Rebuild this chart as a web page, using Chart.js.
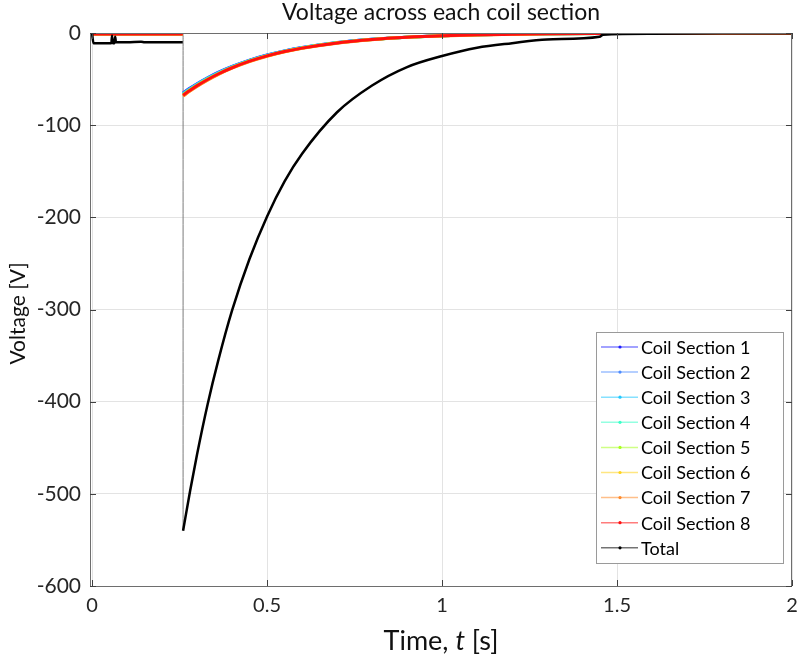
<!DOCTYPE html>
<html lang="en">
<head>
    <meta charset="UTF-8">
    <title>Voltage across each coil section</title>
    <script src="https://cdn.jsdelivr.net/npm/chart.js"></script>
    <style>
        body {
            margin: 0;
            background: #fff;
        }
    </style>
</head>
<body>
    <canvas id="coilChart" width="801" height="660"></canvas>

    <script>
        // time axis for the coil sections (s)
        const tCoil = [0, 0.259, 0.26, 0.28, 0.30, 0.33, 0.36, 0.40, 0.45, 0.50, 0.55, 0.60, 0.70, 0.80, 0.90, 1.00, 1.10, 1.20, 1.30, 1.45, 1.60, 1.80, 2.00];

        // voltage of each coil section (V)
        const coil1 = [-0.9, -0.9, -65, -59.8, -55.0, -48.6, -42.8, -36.3, -29.4, -23.9, -19.4, -15.8, -10.4, -6.8, -4.5, -3.0, -2.0, -1.3, -0.8, -0.5, -0.2, -0.1, 0];
        const coil2 = [-0.9, -0.9, -65.5, -60.3, -55.4, -48.9, -43.2, -36.5, -29.7, -24.1, -19.5, -15.9, -10.5, -6.9, -4.5, -3.0, -2.0, -1.3, -0.9, -0.5, -0.2, -0.1, 0];
        const coil3 = [-1, -1, -66, -60.7, -55.8, -49.3, -43.5, -36.8, -29.9, -24.3, -19.7, -16.0, -10.6, -6.9, -4.6, -3.0, -2.0, -1.3, -0.9, -0.5, -0.2, -0.1, 0];
        const coil4 = [-1, -1, -66.5, -61.2, -56.3, -49.7, -43.8, -37.1, -30.1, -24.5, -19.8, -16.2, -10.6, -7.0, -4.6, -3.1, -2.0, -1.3, -0.9, -0.5, -0.2, -0.1, 0];
        const coil5 = [-1, -1, -67, -61.6, -56.7, -50.0, -44.2, -37.4, -30.4, -24.7, -20.0, -16.3, -10.7, -7.0, -4.6, -3.1, -2.0, -1.3, -0.9, -0.5, -0.2, -0.1, 0];
        const coil6 = [-1, -1, -68, -62.6, -57.5, -50.8, -44.8, -37.9, -30.8, -25.0, -20.3, -16.5, -10.9, -7.1, -4.7, -3.1, -2.0, -1.4, -0.9, -0.5, -0.3, -0.1, 0];
        const coil7 = [-1.1, -1.1, -68.5, -63.0, -58.0, -51.2, -45.1, -38.2, -31.0, -25.2, -20.4, -16.6, -11.0, -7.2, -4.7, -3.2, -2.1, -1.4, -0.9, -0.5, -0.3, -0.1, 0];
        const coil8 = [-1.2, -1.2, -67.5, -62.1, -57.1, -50.4, -44.5, -37.7, -30.6, -24.8, -20.1, -16.4, -10.8, -7.1, -4.7, -3.1, -2.0, -1.4, -0.9, -0.5, -0.2, -0.1, 0];

        // total voltage, own time axis (s)
        const tTotal = [0, 0.004, 0.055, 0.057, 0.059, 0.064, 0.066, 0.068, 0.10, 0.14, 0.15, 0.20, 0.259,
            0.26, 0.28, 0.30, 0.33, 0.36, 0.40, 0.45, 0.50, 0.55, 0.60, 0.70, 0.80, 0.90, 1.00, 1.10, 1.20, 1.30, 1.45, 1.46, 1.60, 1.80, 2.00];
        const total = [-1, -11, -11, -3, -11, -11, -4, -10, -10, -9.5, -10, -10, -10,
            -540, -497, -457, -403, -356, -301, -245, -199, -161, -131, -86, -57, -37, -25, -16, -11, -7, -4, -1.8, -0.8, -0.4, -0.2];

        const seriesNames = ['Coil Section 1', 'Coil Section 2', 'Coil Section 3', 'Coil Section 4',
            'Coil Section 5', 'Coil Section 6', 'Coil Section 7', 'Coil Section 8', 'Total'];
        const xTicks = [0, 0.5, 1, 1.5, 2];
        const yTicks = [0, -100, -200, -300, -400, -500, -600];

        const colors = ['#1f1fff', '#4d8cff', '#22c8ff', '#3affc8', '#a8ff20', '#ffd21a', '#ff8a2a', '#ff1010', '#000000'];
        const coils = [coil1, coil2, coil3, coil4, coil5, coil6, coil7, coil8];

        // points for one series, with a gap at the switch-off jump
        function toPoints(xs, ys, breakAfter) {
            const pts = [];
            xs.forEach((x, i) => {
                pts.push({ x: x, y: ys[i] });
                if (i === breakAfter) pts.push({ x: (x + xs[i + 1]) / 2, y: null });
            });
            return pts;
        }

        const datasets = coils.map((vals, i) => ({
            label: seriesNames[i],
            data: toPoints(tCoil, vals, 1),
            borderColor: colors[i],
            borderWidth: 3,
            order: 8 - i
        }));
        datasets.push({
            label: seriesNames[8],
            data: toPoints(tTotal, total, 12),
            borderColor: colors[8],
            borderWidth: 2.5,
            order: 0
        });
        // thin grey vertical jump line
        datasets.push({
            label: '',
            isJump: true,
            data: [{ x: tTotal[13], y: coil8[0] }, { x: tTotal[13], y: total[13] }],
            borderColor: '#7a7a7a',
            borderWidth: 1,
            order: 10
        });

        const FONT = 'Lato, "Open Sans", sans-serif';

        // frame, inner ticks, titles and legend box like the original figure
        const decor = {
            id: 'decor',
            afterDraw(chart) {
                const ctx = chart.ctx;
                const a = chart.chartArea;
                const xs = chart.scales.x, ys = chart.scales.y;
                ctx.save();

                ctx.strokeStyle = '#6e6e6e';
                ctx.lineWidth = 1;
                ctx.strokeRect(a.left + 0.5, a.top + 0.5, a.right - a.left - 1, a.bottom - a.top);

                ctx.strokeStyle = '#404040';
                ctx.beginPath();
                xTicks.forEach(v => {
                    const px = Math.round(xs.getPixelForValue(v)) + 0.5;
                    ctx.moveTo(px, a.bottom); ctx.lineTo(px, a.bottom - 6);
                    ctx.moveTo(px, a.top); ctx.lineTo(px, a.top + 6);
                });
                yTicks.forEach(v => {
                    const py = Math.round(ys.getPixelForValue(v)) + 0.5;
                    ctx.moveTo(a.left, py); ctx.lineTo(a.left + 6, py);
                    ctx.moveTo(a.right, py); ctx.lineTo(a.right - 6, py);
                });
                ctx.stroke();

                // title
                ctx.fillStyle = '#111';
                ctx.textAlign = 'center';
                ctx.textBaseline = 'middle';
                ctx.font = '23px ' + FONT;
                ctx.fillText('Voltage across each coil section', (a.left + a.right) / 2, 13);

                // y title
                ctx.save();
                ctx.translate(18, (a.top + a.bottom) / 2 + 4);
                ctx.rotate(-Math.PI / 2);
                ctx.font = '21px ' + FONT;
                ctx.fillText('Voltage [V]', 0, 0);
                ctx.restore();

                // x title with italic t
                const parts = [['Time, ', 'normal'], ['t', 'italic'], [' [s]', 'normal']];
                let w = 0;
                parts.forEach(p => { ctx.font = p[1] + ' 27px ' + FONT; w += ctx.measureText(p[0]).width; });
                let x = (a.left + a.right) / 2 - w / 2;
                ctx.textAlign = 'left';
                parts.forEach(p => {
                    ctx.font = p[1] + ' 27px ' + FONT;
                    ctx.fillText(p[0], x, 641);
                    x += ctx.measureText(p[0]).width;
                });

                // legend
                const lx = 596, ly = 332, lw = 187, lh = 231;
                ctx.fillStyle = '#fff';
                ctx.fillRect(lx, ly, lw, lh);
                ctx.strokeStyle = '#9a9a9a';
                ctx.strokeRect(lx + 0.5, ly + 0.5, lw, lh);
                ctx.font = '18px ' + FONT;
                chart.data.datasets.filter(ds => !ds.isJump).forEach((ds, i) => {
                    const y = ly + 15 + i * 25.1;
                    ctx.globalAlpha = 0.55;
                    ctx.strokeStyle = ds.borderColor;
                    ctx.lineWidth = 1.5;
                    ctx.beginPath();
                    ctx.moveTo(lx + 5, y); ctx.lineTo(lx + 42, y);
                    ctx.stroke();
                    ctx.globalAlpha = 1;
                    ctx.fillStyle = ds.borderColor;
                    ctx.beginPath();
                    ctx.arc(lx + 24, y, 1.6, 0, Math.PI * 2);
                    ctx.fill();
                    ctx.fillStyle = '#000';
                    ctx.fillText(ds.label, lx + 45, y + 1);
                });
                ctx.restore();
            }
        };

        new Chart(document.getElementById('coilChart').getContext('2d'), {
            type: 'scatter',
            data: { datasets: datasets },
            options: {
                responsive: false,
                animation: false,
                showLine: true,
                spanGaps: false,
                elements: {
                    point: { radius: 0, hoverRadius: 0 },
                    line: { cubicInterpolationMode: 'monotone', borderJoinStyle: 'round' }
                },
                layout: { padding: { top: 33, right: 9, bottom: 0, left: 0 } },
                plugins: {
                    legend: { display: false },
                    title: { display: false },
                    tooltip: { enabled: false }
                },
                scales: {
                    x: {
                        type: 'linear',
                        min: -0.006,
                        max: 2,
                        afterBuildTicks: s => { s.ticks = xTicks.map(v => ({ value: v })); },
                        afterFit: s => { s.height = 74; s.paddingLeft = 0; s.paddingRight = 0; },
                        grid: { color: '#e3e3e3', drawTicks: false },
                        border: { display: false },
                        ticks: { color: '#262626', font: { family: FONT, size: 20 }, padding: 8, maxRotation: 0, callback: v => String(v) }
                    },
                    y: {
                        min: -600,
                        max: 0,
                        afterBuildTicks: s => { s.ticks = yTicks.map(v => ({ value: v })); },
                        afterFit: s => { s.width = 90; s.paddingTop = 0; s.paddingBottom = 0; },
                        grid: { color: '#e3e3e3', drawTicks: false },
                        border: { display: false },
                        ticks: { color: '#262626', font: { family: FONT, size: 21 }, padding: 9 }
                    }
                }
            },
            plugins: [decor]
        });
    </script>
</body>
</html>
